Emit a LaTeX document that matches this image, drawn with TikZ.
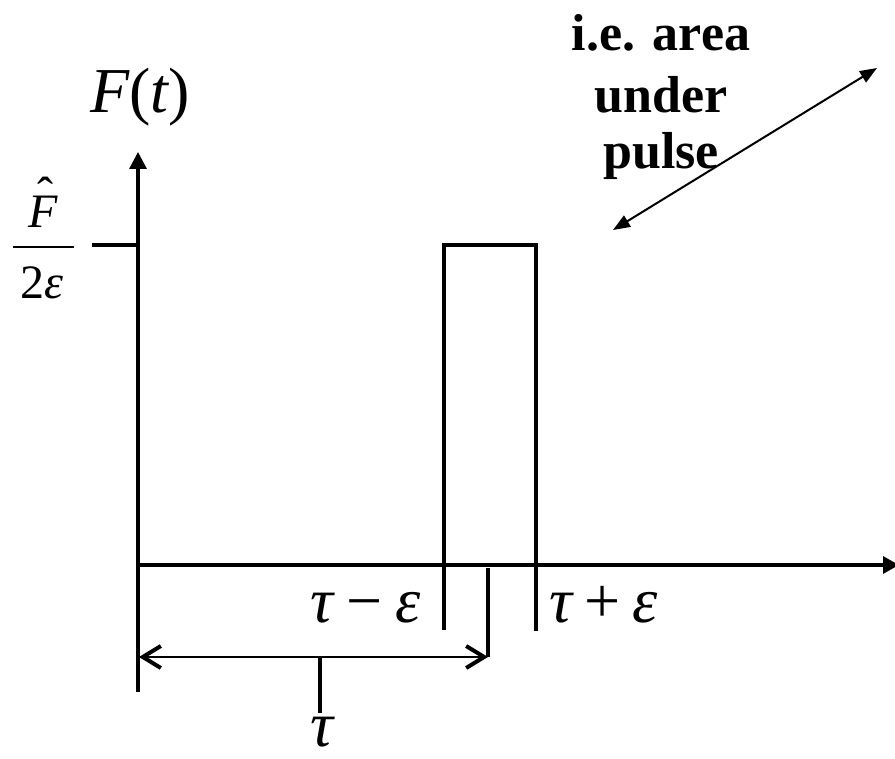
\documentclass[tikz,border=0pt]{standalone}
\usepackage{fontspec}
\setmainfont{Liberation Serif}
\usetikzlibrary{arrows.meta}
\begin{document}
\begin{tikzpicture}[x=1pt,y=-1pt,
  axisline/.style={line width=3.3pt},
  pulseline/.style={line width=4pt, line join=miter},
  tickline/.style={line width=3.3pt},
  dimline/.style={line width=2.6pt, {Straight Barb[length=18pt,width=22pt,line width=4pt]}-{Straight Barb[length=18pt,width=22pt,line width=4pt]}},
  noteline/.style={line width=2pt, {Triangle[length=17pt,width=13pt]}-{Triangle[length=17pt,width=13pt]}},
  mathlbl/.style={inner sep=0pt, anchor=base, font=\fontsize{64}{70}\selectfont},
  fraclbl/.style={inner sep=0pt, anchor=base, font=\fontsize{48}{54}\selectfont},
  notelbl/.style={inner sep=0pt, anchor=base, font=\fontsize{52}{60}\selectfont\bfseries}
]
\useasboundingbox (0,0) rectangle (895,759);

% coordinates
\coordinate (O) at (138,565);
\coordinate (ytop) at (138,152);
\coordinate (ybot) at (138,692);
\coordinate (xend) at (899,565);
\coordinate (yt1) at (92,245);
\coordinate (yt2) at (138,245);
\coordinate (pbl) at (444,565);
\coordinate (ptl) at (444,245);
\coordinate (ptr) at (536,245);
\coordinate (pbr) at (536,565);
\coordinate (tl) at (444,630);
\coordinate (tr) at (536,631);
\coordinate (tautop) at (488,568);
\coordinate (taubot) at (488,657);
\coordinate (dimL) at (139,657);
\coordinate (dimR) at (488,657);
\coordinate (mtop) at (320,657);
\coordinate (mbot) at (320,713);
\coordinate (na) at (613,230);
\coordinate (nb) at (877,68);
\coordinate (barL) at (13,247);
\coordinate (barR) at (74,247);

% axes
\draw[axisline, -{Triangle[length=17pt,width=17pt]}] (ybot) -- (ytop);
\draw[axisline, -{Triangle[length=16pt,width=17pt]}] (O) -- (xend);
\draw[tickline] (yt1) -- (yt2);

% pulse
\draw[pulseline] (pbl) -- (ptl) -- (ptr) -- (pbr);
\draw[tickline] (pbl) -- (tl);
\draw[tickline] (pbr) -- (tr);
\draw[tickline] (tautop) -- (taubot);

% dimension tau
\draw[dimline] (dimL) -- (dimR);
\draw[tickline] (mtop) -- (mbot);

% note arrow
\draw[noteline] (na) -- (nb);

% labels
\node[mathlbl] (Ft) at (140,113) {\itshape F\upshape(\itshape t\upshape)};
\node[fraclbl] (Fnum) at (43,228) {\itshape F\llap{\upshape\raisebox{17pt}{ˆ}\kern4pt}};
\draw[line width=2.6pt] (barL) -- (barR);
\node[fraclbl] (Fden) at (42,299) {2\itshape ε};

\node[mathlbl] (tme) at (366,622) {\itshape τ\kern13pt\upshape −\kern13pt\itshape ε};
\node[mathlbl] (tpe) at (604,622) {\itshape τ\kern12pt\upshape +\kern12pt\itshape ε};
\node[mathlbl] (tau) at (322,746) {\itshape τ};

\node[notelbl] (n1) at (661,51) {i.e. area};
\node[notelbl] (n2) at (661,113) {under};
\node[notelbl] (n3) at (661,169) {pulse};
\end{tikzpicture}
\end{document}
